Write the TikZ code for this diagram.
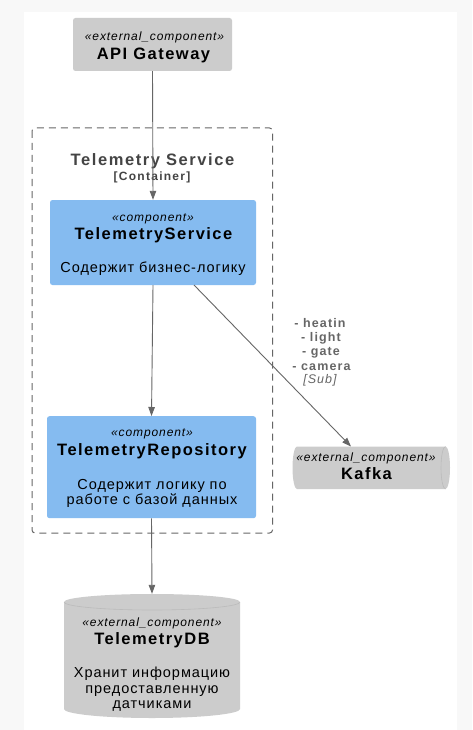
\documentclass[tikz,border=0pt]{standalone}
\usepackage{fontspec}
\setmainfont{Liberation Sans}
\newfontfamily\namefont{Liberation Sans}[LetterSpace=9]
\newfontfamily\titlefont{Liberation Sans}[LetterSpace=9.5]
\newfontfamily\typefont{Liberation Sans}[LetterSpace=10.5]
\newfontfamily\descfont{Liberation Sans}[LetterSpace=6.5]
\newfontfamily\stereofont{Liberation Sans}[LetterSpace=7.5]
\newfontfamily\lblfont{Liberation Sans}[LetterSpace=9]
\newfontfamily\lblitfont{Liberation Sans}[LetterSpace=8]
\usetikzlibrary{arrows.meta}
\definecolor{extgray}{HTML}{CCCCCC}
\definecolor{extedge}{HTML}{BBBBBB}
\definecolor{compblue}{HTML}{85BBF0}
\definecolor{linegray}{HTML}{666666}
\definecolor{titlegray}{HTML}{444444}
\definecolor{bggray}{HTML}{F8F8F8}
\tikzset{
  boxbase/.style={rectangle, rounded corners=2.5pt, inner sep=0pt},
  extbox/.style={boxbase, fill=extgray},
  compbox/.style={boxbase, fill=compblue},
  stereo/.style={anchor=base, inner sep=0pt, font=\stereofont\itshape\fontsize{12}{14}\selectfont},
  nametext/.style={anchor=base, inner sep=0pt, font=\namefont\bfseries\fontsize{16.5}{19}\selectfont},
  desctext/.style={anchor=base, inner sep=0pt, font=\descfont\fontsize{14.5}{16}\selectfont},
  lbltext/.style={anchor=base, inner sep=0pt, text=linegray, font=\lblfont\bfseries\fontsize{12.5}{14}\selectfont},
  conn/.style={draw=linegray, line width=0.9pt, -{Triangle[length=9pt,width=6.5pt]}},
  anchorbox/.style={rectangle, inner sep=0pt},
}
\begin{document}
\begin{tikzpicture}[x=1pt,y=-1pt]
\fill[bggray] (0,0) rectangle (472,730);
\fill[white] (24,12) rectangle (457,730);
\useasboundingbox (0,0) rectangle (472,730);

% container
\draw[linegray, line width=1pt, dash pattern=on 7pt off 5pt, rounded corners=3pt] (32,128) rectangle (272.5,533);
\node[anchor=base, inner sep=0pt, text=titlegray, font=\titlefont\bfseries\fontsize{16.5}{19}\selectfont] (ctitle) at (152.5,166) {Telemetry Service};
\node[anchor=base, inner sep=0pt, text=titlegray, font=\typefont\bfseries\fontsize{12}{14}\selectfont] (ctype) at (152,181) {[Container]};

% API Gateway
\node[extbox, minimum width=159pt, minimum height=53pt] (api) at (152.5,44.5) {};
\node[stereo] (apist) at (154.5,41) {«external\_component»};
\node[nametext] (apinm) at (153.5,60) {API Gateway};

% TelemetryService
\node[compbox, minimum width=206pt, minimum height=85pt] (ts) at (153,242.5) {};
\node[stereo] (tsst) at (153,221) {«component»};
\node[nametext] (tsnm) at (153.5,239.5) {TelemetryService};
\node[desctext] (tsds) at (153,272.5) {Содержит бизнес-логику};

% TelemetryRepository
\node[compbox, minimum width=209pt, minimum height=102pt] (tr) at (151.5,467.2) {};
\node[stereo] (trst) at (152,436) {«component»};
\node[nametext] (trnm) at (152,455.7) {TelemetryRepository};
\node[desctext] (trd1) at (152,489.3) {Содержит логику по};
\node[desctext] (trd2) at (152,504.5) {работе с базой данных};

% Kafka (horizontal cylinder)
\fill[extgray] (297,446.5) -- (445.5,446.5) arc[start angle=-90, end angle=90, x radius=4.5, y radius=21.25] -- (297,489) arc[start angle=90, end angle=270, x radius=4.5, y radius=21.25] -- cycle;
\draw[extedge, line width=0.6pt] (445.5,446.5) arc[start angle=270, end angle=90, x radius=4.5, y radius=21.25];
\node[anchorbox, minimum width=158pt, minimum height=42.5pt] (kafka) at (371,467.75) {};
\node[stereo] (kst) at (366,461.7) {«external\_component»};
\node[nametext] (knm) at (366.5,479.3) {Kafka};

% TelemetryDB (vertical cylinder)
\fill[extgray] (64,602) arc[start angle=180, end angle=360, x radius=88, y radius=8] -- (240,709) arc[start angle=0, end angle=180, x radius=88, y radius=9] -- cycle;
\draw[extedge, line width=0.6pt] (64,602) arc[start angle=180, end angle=0, x radius=88, y radius=8];
\node[anchorbox, minimum width=176pt, minimum height=124pt] (db) at (152,656) {};
\node[stereo] (dbst) at (152,626) {«external\_component»};
\node[nametext] (dbnm) at (152,644.3) {TelemetryDB};
\node[desctext] (dbd1) at (152,677.7) {Хранит информацию};
\node[desctext] (dbd2) at (152,693) {предоставленную};
\node[desctext] (dbd3) at (152,708.3) {датчиками};

% connectors
\coordinate (tsk) at (194,285);
\coordinate (kin) at (351,446.5);
\draw[conn] (api.south) -- (ts.north);
\draw[conn] (ts.south) -- (tr.north);
\draw[conn] (tsk) -- (kin);
\draw[conn] (tr.south) -- (db.north);

% label
\node[lbltext] (l1) at (320,327.3) {- heatin};
\node[lbltext] (l2) at (321,341.7) {- light};
\node[lbltext] (l3) at (321,355.7) {- gate};
\node[lbltext] (l4) at (321.5,370) {- camera};
\node[anchor=base, inner sep=0pt, text=linegray, font=\lblitfont\itshape\fontsize{12.5}{14}\selectfont] (l5) at (320,383.3) {[Sub]};
\end{tikzpicture}
\end{document}
